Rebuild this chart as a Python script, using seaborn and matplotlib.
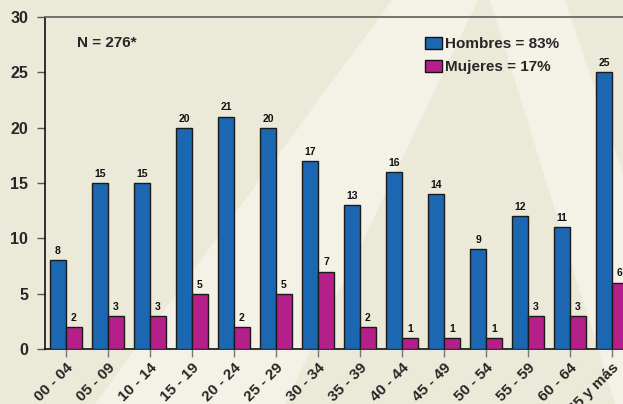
import pandas as pd
import seaborn as sns
import matplotlib.pyplot as plt
from matplotlib.patches import Polygon

# Data
grupos = ["00 - 04", "05 - 09", "10 - 14", "15 - 19", "20 - 24", "25 - 29", "30 - 34",
          "35 - 39", "40 - 44", "45 - 49", "50 - 54", "55 - 59", "60 - 64", "65 y más"]
hombres = [8, 15, 15, 20, 21, 20, 17, 13, 16, 14, 9, 12, 11, 25]
mujeres = [2, 3, 3, 5, 2, 5, 7, 2, 1, 1, 1, 3, 3, 6]
etiquetas = ["Hombres = 83%", "Mujeres = 17%"]
colores = ["#1c67b2", "#b41f8a"]

df = pd.concat([
    pd.DataFrame({"grupo": grupos, "n": hombres, "sexo": etiquetas[0]}),
    pd.DataFrame({"grupo": grupos, "n": mujeres, "sexo": etiquetas[1]}),
])

sns.set_theme(style="white")
plt.rcParams["font.family"] = ["Liberation Sans", "DejaVu Sans"]

bg = "#ebe9d8"
light = "#f4f2e7"
W, H = 623, 404

fig = plt.figure(figsize=(W / 100, H / 100), dpi=100, facecolor=bg)

# big "A" watermark in the background (pixel coords from top-left)
def px(pts):
    return [(x / W, 1 - y / H) for x, y in pts]

for pts in ([(95, 404), (285, 404), (478, 0), (392, 0)],
            [(490, 0), (565, 0), (700, 404), (615, 404)]):
    fig.patches.append(Polygon(px(pts), closed=True, transform=fig.transFigure,
                               facecolor=light, edgecolor="none", zorder=-5))

ax = fig.add_axes([45 / W, 55 / H, 588 / W, 332 / H])
ax.set_facecolor("none")

sns.barplot(data=df, x="grupo", y="n", hue="sexo", palette=colores, width=0.76,
            saturation=1, edgecolor="#1a1a1a", linewidth=1.0, ax=ax, zorder=3)

for cont in ax.containers:
    ax.bar_label(cont, fontsize=7.5, fontweight="bold", padding=3, color="#111")

ax.set_xlim(-0.5, 13.5)
ax.set_ylim(0, 30)
ax.set_yticks(range(0, 31, 5))
ax.set_xlabel("")
ax.set_ylabel("")

for s in ["left", "bottom"]:
    ax.spines[s].set_color("#111")
    ax.spines[s].set_linewidth(1.2)
ax.spines["right"].set_visible(False)
ax.spines["top"].set_color("#6a6a66")
ax.spines["top"].set_linewidth(1.3)

ax.tick_params(axis="y", left=True, length=6, width=1, color="#555", pad=6,
               labelsize=11.5)
ax.tick_params(axis="x", bottom=True, length=5.5, width=1, color="#777", pad=3,
               labelsize=11)
for t in ax.get_yticklabels():
    t.set_fontweight("bold")
for t in ax.get_xticklabels():
    t.set_fontweight("bold")
    t.set_rotation(45)
    t.set_ha("right")
    t.set_va("top")
    t.set_rotation_mode("anchor")

ax.text(0.054, 0.922, "N = 276*", transform=ax.transAxes, fontsize=11,
        fontweight="bold", va="center", ha="left")

ax.legend(loc="upper left", bbox_to_anchor=(0.646, 0.94), frameon=False,
          borderpad=0, borderaxespad=0, handlelength=1.1, handleheight=0.85,
          handletextpad=0.2, labelspacing=0.55,
          prop={"weight": "bold", "size": 11})
for h in ax.get_legend().legend_handles:
    h.set_edgecolor("#111")

fig.savefig("out.png", dpi=100, facecolor=bg)
